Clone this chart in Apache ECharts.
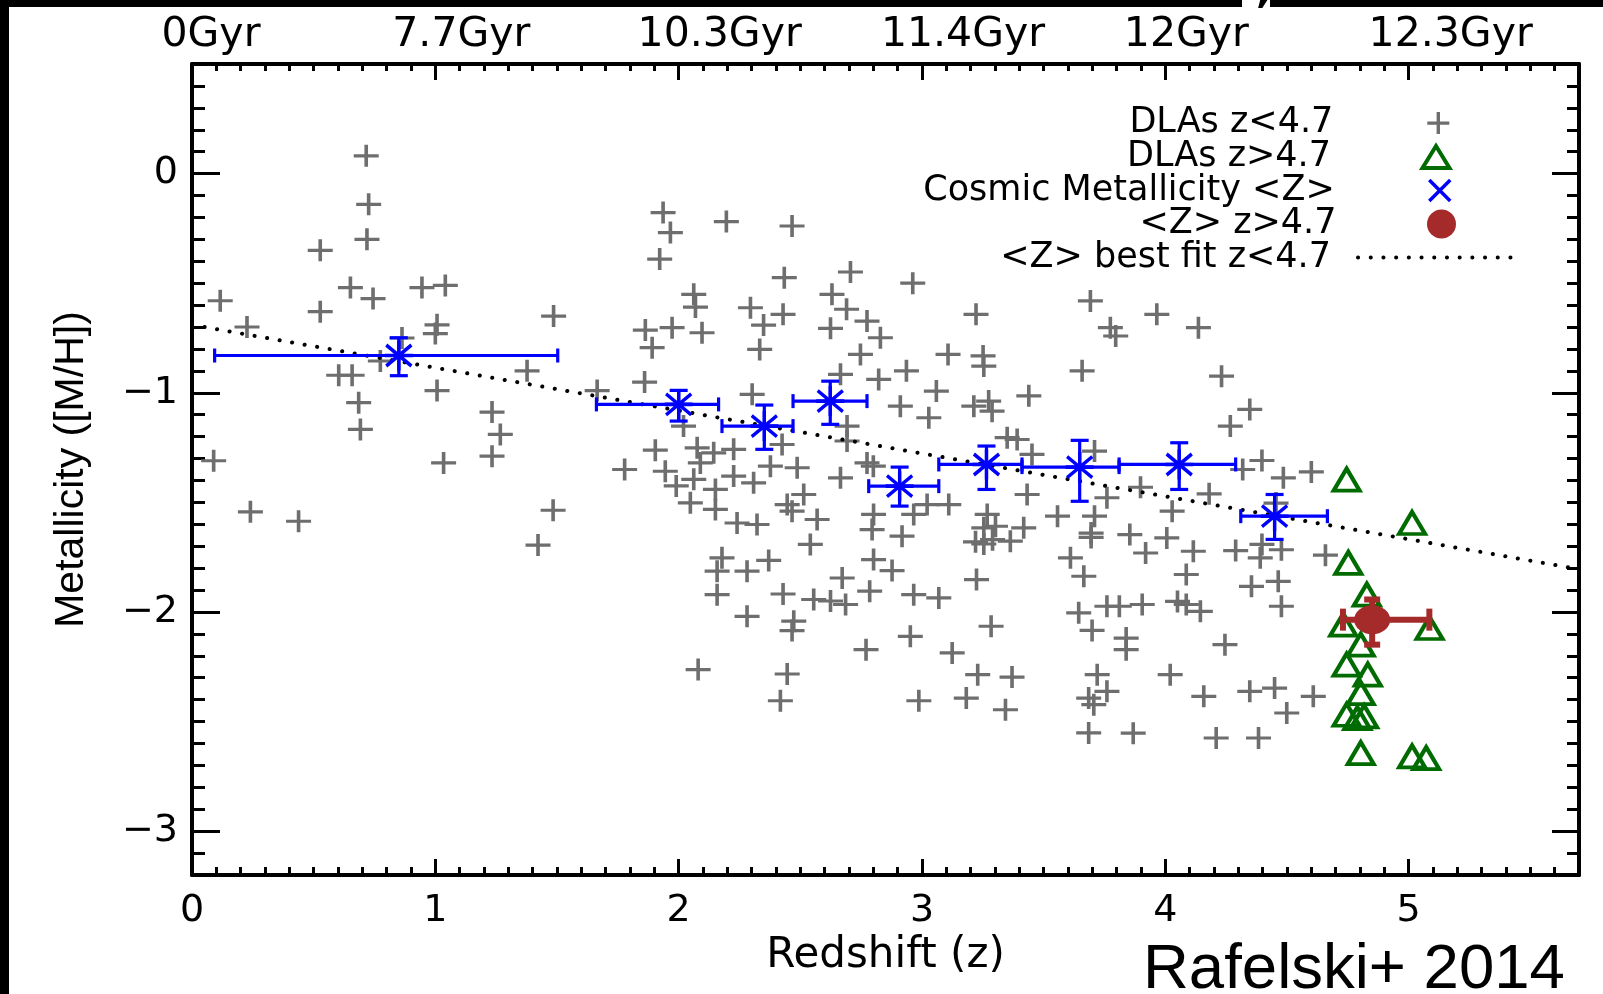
<!DOCTYPE html>
<html><head><meta charset="utf-8">
<script src="https://cdn.jsdelivr.net/npm/echarts@6/dist/echarts.min.js"></script>
<style>html,body{margin:0;padding:0;background:#fff}#c{width:1603px;height:994px}</style>
</head><body><div id="c"></div>
<script>
// ---------------- DATA ----------------
const zMajor = [0, 1, 2, 3, 4, 5];
const zTickLabels = ['0', '1', '2', '3', '4', '5'];
const ageTickLabels = ['0Gyr', '7.7Gyr', '10.3Gyr', '11.4Gyr', '12Gyr', '12.3Gyr'];
const mMajor = [-3, -2, -1, 0];
const mTickLabels = ['\u22123', '\u22122', '\u22121', '0'];

// DLAs z<4.7 : [redshift, metallicity]
const dlaLowPoints = [
 [0.716,0.081],[0.726,-0.14],[0.719,-0.30],[0.527,-0.35],[0.116,-0.58],[0.651,-0.52],[0.744,-0.57],
 [0.527,-0.63],[0.945,-0.52],[1.041,-0.51],[0.226,-0.70],[1.007,-0.69],[1.0,-0.73],[1.486,-0.65],
 [0.863,-0.75],[0.774,-0.855],[0.603,-0.92],[0.658,-0.92],[1.377,-0.90],[1.007,-0.99],[0.685,-1.045],
 [0.692,-1.167],[1.233,-1.088],[1.267,-1.19],[1.233,-1.289],[1.034,-1.32],[0.089,-1.31],[1.665,-0.99],
 [0.24,-1.543],[0.438,-1.586],[1.484,-1.536],[1.422,-1.695],[1.778,-1.35],
 [1.922,-0.39],[1.936,-0.178],[1.966,-0.269],[1.863,-0.714],[1.973,-0.703],[1.891,-0.794],[1.86,-0.951],
 [1.904,-1.262],[1.945,-1.358],[1.99,-1.425],
 [2.196,-0.219],[2.466,-0.239],[2.434,-0.475],[2.706,-0.449],[2.962,-0.50],[2.062,-0.551],[2.069,-0.609],
 [2.295,-0.612],[2.429,-0.642],[2.349,-0.691],[2.63,-0.551],[2.69,-0.619],[2.774,-0.673],[2.829,-0.749],
 [2.624,-0.706],[2.747,-0.825],[2.096,-0.726],[2.333,-0.802],[3.222,-0.642],[3.107,-0.825],[3.251,-0.832],
 [3.254,-0.878],[2.936,-0.90],[2.822,-0.939],[3.059,-0.992],[2.911,-1.061],[3.028,-1.114],[3.658,-0.90],
 [3.692,-0.581],[3.439,-1.014],[3.213,-1.061],[3.274,-1.038],[3.288,-1.084],[2.302,-1.007],[2.02,-1.152],
 [2.665,-0.916],[2.692,-1.152],[2.692,-1.22],[2.425,-1.236],[2.076,-1.251],[2.144,-1.274],[2.226,-1.258],
 [2.089,-1.32],[2.062,-1.395],[2.151,-1.441],[2.226,-1.38],[2.308,-1.411],[2.377,-1.335],[2.487,-1.342],
 [2.048,-1.502],[2.151,-1.532],[2.24,-1.594],[2.322,-1.601],[2.446,-1.51],[2.466,-1.54],[2.514,-1.464],
 [2.569,-1.578],[2.541,-1.692],[2.665,-1.388],[2.774,-1.32],[2.80,-1.335],[2.801,-1.555],[2.795,-1.624],
 [2.918,-1.654],[2.966,-1.555],[3.021,-1.51],[3.11,-1.51],[3.268,-1.555],[3.254,-1.616],[3.302,-1.609],
 [3.22,-1.68],[3.254,-1.69],[3.29,-1.67],[3.363,-1.677],[3.418,-1.616],[3.35,-1.205],[3.391,-1.213],
 [3.452,-1.281],[3.432,-1.464],
 [2.178,-1.753],[2.158,-1.814],[2.281,-1.814],[2.37,-1.765],[2.801,-1.761],[2.877,-1.811],[2.672,-1.845],
 [2.158,-1.921],[2.429,-1.918],[2.555,-1.943],[2.624,-1.95],[2.686,-1.966],[2.785,-1.905],[2.966,-1.921],
 [3.069,-1.936],[3.224,-1.852],[2.281,-2.02],[2.473,-2.042],[2.466,-2.085],[2.952,-2.111],[2.77,-2.172],
 [3.124,-2.187],[3.284,-2.065],[2.08,-2.263],[2.446,-2.283],[3.229,-2.286],[3.37,-2.297],[2.418,-2.405],
 [2.987,-2.405],[3.182,-2.393],[3.343,-2.446],[3.61,-1.753],[3.665,-1.837],[3.644,-2.004],[3.699,-2.084],
 [3.72,-2.286],[3.685,-2.393],[3.706,-2.423],[3.685,-2.552],
 [3.774,-0.703],[3.796,-0.741],[3.965,-0.642],[4.136,-0.703],[4.231,-0.924],
 [4.347,-1.076],[4.267,-1.152],[3.709,-1.266],[4.397,-1.309],[4.318,-1.35],[4.485,-1.388],[4.6,-1.361],
 [3.898,-1.431],[3.76,-1.479],[4.18,-1.461],[4.028,-1.54],[3.557,-1.563],[3.709,-1.563],[4.455,-1.503],
 [3.695,-1.64],[3.695,-1.66],[3.854,-1.647],[4.006,-1.662],[3.919,-1.731],[4.115,-1.723],[4.289,-1.72],
 [4.39,-1.753],[4.477,-1.716],[4.397,-1.692],[4.658,-1.741],[4.086,-1.829],[4.354,-1.883],[4.464,-1.86],
 [4.477,-1.974],[3.76,-1.974],[3.811,-1.974],[3.905,-1.966],[4.05,-1.952],[4.086,-1.966],[4.144,-1.997],
 [3.839,-2.119],[3.839,-2.172],[4.245,-2.149],[4.02,-2.286],[3.76,-2.362],[4.158,-2.385],[4.347,-2.362],
 [4.449,-2.347],[4.608,-2.385],[4.499,-2.461],[3.868,-2.553],[4.209,-2.575],[4.383,-2.575]
];

// DLAs z>4.7
const dlaHighPoints = [
 [4.745,-1.396],[5.014,-1.594],[4.752,-1.776],[4.828,-1.921],[4.731,-2.058],[5.086,-2.073],[4.803,-2.149],
 [4.745,-2.24],[4.832,-2.286],[4.803,-2.37],[4.745,-2.469],[4.817,-2.476],[4.789,-2.484],[4.803,-2.644],
 [5.014,-2.659],[5.072,-2.667]
];

// Cosmic metallicity <Z> with error bars
const cosmicZ    = [0.85, 2.0, 2.352, 2.623, 2.908, 3.265, 3.648, 4.057, 4.449];
const cosmicM    = [-0.83, -1.053, -1.152, -1.038, -1.426, -1.327, -1.339, -1.327, -1.563];
const cosmicZLo  = [0.093, 1.662, 2.178, 2.47, 2.781, 3.069, 3.411, 3.81, 4.31];
const cosmicZHi  = [1.503, 2.164, 2.47, 2.774, 3.069, 3.411, 3.81, 4.289, 4.666];
const cosmicMLo  = [-0.922, -1.129, -1.258, -1.144, -1.517, -1.441, -1.495, -1.441, -1.669];
const cosmicMHi  = [-0.749, -0.989, -1.056, -0.947, -1.339, -1.243, -1.217, -1.228, -1.464];

// <Z> z>4.7
const highZ = [4.85], highM = [-2.035], highZLo = [4.73], highZHi = [5.085], highMLo = [-2.149], highMHi = [-1.943];

// best fit z<4.7 (endpoints)
const fitZ = [0, 5.7];
const fitM = [-0.69, -1.805];

// ---------------- STYLE ----------------
const FONT = 'DejaVu Sans';
const GRAY = '#6e6e6e', GREEN = '#006b00', BLUE = '#0000ff', BROWN = '#a52a2a';
const ageLabelShift = [19, 26, 41, 41, 21, 42];

function tenths(lo, hi) {
  const out = [];
  for (let i = Math.round(lo * 10); i <= Math.round(hi * 10); i++) if (i % 10 !== 0) out.push(i / 10);
  return out;
}
const zMinor = tenths(0.1, 5.6);
const mMinor = tenths(-3.1, 0.4);
const idxOf = (arr, v) => arr.findIndex(a => Math.abs(a - v) < 1e-9);

const axLine = { show: true, onZero: false, lineStyle: { color: '#000', width: 4 } };
const noLine = { show: false, onZero: false };
const tickSt = { color: '#000', width: 3 };

const ageRich = {};
ageLabelShift.forEach((s, i) => { ageRich['t' + i] = { padding: [0, 0, 0, 2 * s], fontFamily: FONT, fontSize: 41, color: '#000' }; });

const xAxes = [
  { type: 'value', position: 'bottom', min: 0, max: 5.7, axisLine: axLine,
    axisTick: { show: true, inside: true, length: 16, customValues: zMajor, lineStyle: tickSt },
    axisLabel: { show: true, customValues: zMajor, formatter: v => zTickLabels[idxOf(zMajor, v)],
      fontFamily: FONT, fontSize: 38, color: '#000', margin: 17 },
    splitLine: { show: false },
    name: 'Redshift (z)', nameLocation: 'middle', nameGap: 57,
    nameTextStyle: { fontFamily: FONT, fontSize: 42, color: '#000' } },
  { type: 'value', position: 'bottom', min: 0, max: 5.7, axisLine: noLine,
    axisTick: { show: true, inside: true, length: 8, customValues: zMinor, lineStyle: tickSt },
    axisLabel: { show: false }, splitLine: { show: false } },
  { type: 'value', position: 'top', min: 0, max: 5.7, axisLine: axLine,
    axisTick: { show: true, inside: true, length: 16, customValues: zMajor, lineStyle: tickSt },
    axisLabel: { show: true, customValues: zMajor, margin: 8,
      formatter: v => { const i = idxOf(zMajor, v); return '{t' + i + '|' + ageTickLabels[i] + '}'; },
      rich: ageRich, fontFamily: FONT, fontSize: 41, color: '#000' },
    splitLine: { show: false } },
  { type: 'value', position: 'top', min: 0, max: 5.7, axisLine: noLine,
    axisTick: { show: true, inside: true, length: 7, customValues: zMinor, lineStyle: tickSt },
    axisLabel: { show: false }, splitLine: { show: false } }
];
const yAxes = [
  { type: 'value', position: 'left', min: -3.2, max: 0.5, axisLine: axLine,
    axisTick: { show: true, inside: true, length: 28, customValues: mMajor, lineStyle: tickSt },
    axisLabel: { show: true, customValues: mMajor, formatter: v => mTickLabels[idxOf(mMajor, v)],
      fontFamily: FONT, fontSize: 38, color: '#000', margin: 14 },
    splitLine: { show: false },
    name: 'Metallicity ([M/H])', nameLocation: 'middle', nameGap: 100,
    nameTextStyle: { fontFamily: 'Liberation Sans', fontSize: 41, color: '#000' } },
  { type: 'value', position: 'left', min: -3.2, max: 0.5, axisLine: noLine,
    axisTick: { show: true, inside: true, length: 13, customValues: mMinor, lineStyle: tickSt },
    axisLabel: { show: false }, splitLine: { show: false } },
  { type: 'value', position: 'right', min: -3.2, max: 0.5, axisLine: axLine,
    axisTick: { show: true, inside: true, length: 27, customValues: mMajor, lineStyle: tickSt },
    axisLabel: { show: false }, splitLine: { show: false } },
  { type: 'value', position: 'right', min: -3.2, max: 0.5, axisLine: noLine,
    axisTick: { show: true, inside: true, length: 12, customValues: mMinor, lineStyle: tickSt },
    axisLabel: { show: false }, splitLine: { show: false } }
];

function errorBars(capX, capY, color, width) {
  return function (params, api) {
    const z = api.value(0), m = api.value(1), zl = api.value(2), zh = api.value(3), ml = api.value(4), mh = api.value(5);
    const L = api.coord([zl, m]), R = api.coord([zh, m]), B = api.coord([z, ml]), T = api.coord([z, mh]);
    const st = { stroke: color, lineWidth: width, fill: null };
    const ln = (x1, y1, x2, y2) => ({ type: 'line', shape: { x1, y1, x2, y2 }, style: st });
    return { type: 'group', children: [
      ln(L[0], L[1], R[0], R[1]),
      ln(L[0], L[1] - capX, L[0], L[1] + capX),
      ln(R[0], R[1] - capX, R[0], R[1] + capX),
      ln(B[0], B[1], T[0], T[1]),
      ln(B[0] - capY, B[1], B[0] + capY, B[1]),
      ln(T[0] - capY, T[1], T[0] + capY, T[1])
    ] };
  };
}

const cosmicErrData = cosmicZ.map((z, i) => [z, cosmicM[i], cosmicZLo[i], cosmicZHi[i], cosmicMLo[i], cosmicMHi[i]]);
const highErrData = highZ.map((z, i) => [z, highM[i], highZLo[i], highZHi[i], highMLo[i], highMHi[i]]);

const PLUS = 'path://M-1,0L1,0M0,-1L0,1';
const STAR = 'path://M-1,0L1,0M0,-1L0,1M-0.9,-0.7L0.9,0.7M-0.9,0.7L0.9,-0.7';
const CROSS = 'path://M-1,-1L1,1M-1,1L1,-1';

function legendRow(name, iconCenterX, rowY, w, h, extra) {
  const textEnd = 1333;
  const iconLeft = iconCenterX - w / 2;
  return Object.assign({
    show: true, selectedMode: false, orient: 'horizontal', align: 'right', padding: 0,
    right: 1603 - (iconCenterX + w / 2), top: rowY - h / 2,
    itemWidth: w, itemHeight: h,
    data: [name],
    textStyle: { fontFamily: FONT, fontSize: 35, color: '#000', padding: [0, iconLeft - 5 - textEnd, 0, 0] }
  }, extra || {});
}

const option = {
  animation: false,
  backgroundColor: '#fff',
  grid: { left: 192, right: 24, top: 64, bottom: 119, containLabel: false },
  xAxis: xAxes,
  yAxis: yAxes,
  legend: [
    legendRow('DLAs z<4.7', 1438, 116.6, 26, 22, { itemStyle: { borderWidth: 3.4 } }),
    legendRow('DLAs z>4.7', 1438, 150.5, 27, 22, { itemStyle: { borderWidth: 4 } }),
    legendRow('Cosmic Metallicity <Z>', 1438, 183.5, 28, 21,
      { data: [{ name: 'Cosmic Metallicity <Z>', icon: CROSS }], itemStyle: { borderWidth: 3.5 } }),
    legendRow('<Z> z>4.7', 1438, 221, 36, 29, { itemStyle: { borderWidth: 0 } }),
    legendRow('<Z> best fit z<4.7', 1437, 247, 154, 14,
      { lineStyle: { width: 4 }, itemStyle: { color: 'rgba(0,0,0,0)', borderWidth: 0, opacity: 0 } })
  ],
  series: [
    { name: 'DLAs z<4.7', type: 'scatter', data: dlaLowPoints, symbol: PLUS, symbolSize: [25, 22],
      itemStyle: { color: 'rgba(0,0,0,0)', borderColor: GRAY, borderWidth: 3.4, opacity: 1 }, z: 2 },
    { name: '<Z> best fit z<4.7', type: 'line', data: fitZ.map((z, i) => [z, fitM[i]]), symbol: 'none',
      itemStyle: { color: 'rgba(0,0,0,0)' },
      lineStyle: { color: '#000', width: 4, type: [0.1, 12.6], cap: 'round' }, z: 3 },
    { name: 'cosmicErr', type: 'custom', data: cosmicErrData, encode: { x: 0, y: 1 },
      renderItem: errorBars(7, 9, BLUE, 3.2), z: 4 },
    { name: 'Cosmic Metallicity <Z>', type: 'scatter', data: cosmicZ.map((z, i) => [z, cosmicM[i]]),
      symbol: STAR, symbolSize: [28, 30],
      itemStyle: { color: 'rgba(0,0,0,0)', borderColor: BLUE, borderWidth: 3.5, opacity: 1 }, z: 5 },
    { name: 'DLAs z>4.7', type: 'scatter', data: dlaHighPoints, symbol: 'triangle', symbolSize: [26, 22],
      itemStyle: { color: 'rgba(0,0,0,0)', borderColor: GREEN, borderWidth: 4, opacity: 1 }, z: 6 },
    { name: 'highErr', type: 'custom', data: highErrData, encode: { x: 0, y: 1 },
      renderItem: errorBars(11, 8, BROWN, 6), z: 7 },
    { name: '<Z> z>4.7', type: 'scatter', data: highZ.map((z, i) => [z, highM[i]]), symbol: 'circle',
      symbolSize: [36, 29], itemStyle: { color: BROWN, opacity: 1 }, z: 8 }
  ],
  graphic: [
    { type: 'rect', shape: { x: 0, y: 0, width: 9, height: 994 }, style: { fill: '#000' }, z: 100 },
    { type: 'rect', shape: { x: 0, y: 0, width: 1242, height: 7 }, style: { fill: '#000' }, z: 100 },
    { type: 'rect', shape: { x: 1270, y: 0, width: 333, height: 7 }, style: { fill: '#000' }, z: 100 },
    { type: 'text', x: 1256, y: -8, style: { text: ',', fontFamily: FONT, fontWeight: 'bold', fontSize: 40, fill: '#000', verticalAlign: 'middle' }, z: 100 },
    { type: 'text', x: 1143, y: 970, style: { text: 'Rafelski+ 2014', fontFamily: 'Liberation Sans', fontSize: 63.5, fill: '#000', verticalAlign: 'middle' }, z: 100 }
  ]
};

const chart = echarts.init(document.getElementById('c'), null, { renderer: 'canvas' });
chart.setOption(option);
</script>
</body></html>
